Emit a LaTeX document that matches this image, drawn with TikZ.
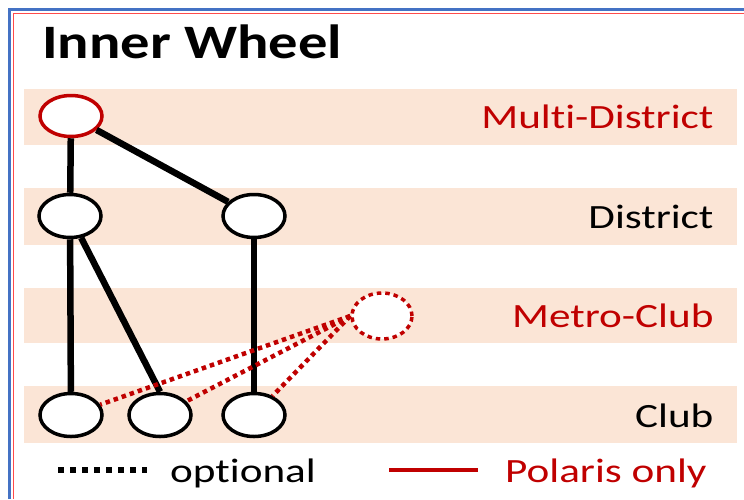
\documentclass[tikz,border=0pt]{standalone}
\usepackage{fontspec}
\setmainfont{Carlito}[Ligatures=CommonOff]
\usepackage{graphicx}
\usepackage{xcolor}
\usetikzlibrary{shapes.geometric}
\definecolor{darkred}{HTML}{C00000}
\definecolor{band}{HTML}{FBE5D6}
\definecolor{frameblue}{HTML}{4472C4}
\definecolor{framered}{HTML}{FF4B4B}
\newcommand{\wide}[1]{\scalebox{1.27}[1]{#1}}

\begin{document}
\begin{tikzpicture}[x=1pt,y=-1pt]
\tikzstyle{every node}=[font=\fontsize{34}{40}\selectfont]
\tikzstyle{unit}=[ellipse, draw, line width=3.5pt, fill=white, minimum width=62pt, minimum height=43pt, inner sep=0pt]
\tikzstyle{link}=[line width=6.5pt]
\tikzstyle{opt}=[draw=darkred, line width=4.5pt, dash pattern=on 4.5pt off 4pt]
\tikzstyle{level}=[anchor=base east]
\useasboundingbox (0,0) rectangle (744,499);
\fill [white] (0,0) rectangle (744,499);
% frame
\draw [frameblue, line width=3pt] (9.5,499) -- (9.5,9.5) -- (744,9.5);
\draw [framered, line width=1.5pt] (13.5,499) -- (13.5,13.5) -- (744,13.5);
% bands
\fill [band] (24,89) rectangle (737,145);
\fill [band] (24,188) rectangle (737,245);
\fill [band] (24,288) rectangle (737,343);
\fill [band] (24,386) rectangle (737,443);
% title
\node [anchor=base west, inner sep=0pt, font=\fontsize{48}{56}\selectfont\bfseries] (title) at (42,58) {\scalebox{1.22}[1]{Inner Wheel}};
% levels
\node [level, text=darkred] (lmd) at (717,128) {\wide{Multi-District}};
\node [level] (ld) at (717,228) {\wide{District}};
\node [level, text=darkred] (lmc) at (717,327) {\wide{Metro-Club}};
\node [level] (lc) at (717,427) {\wide{Club}};
% units
\node [unit, draw=darkred, minimum height=41pt] (md) at (71,116) {};
\node [unit] (d1) at (70,216) {};
\node [unit] (d2) at (254,216) {};
\node [unit, opt, line width=3.5pt, minimum width=60pt, minimum height=46pt] (mc) at (382,316) {};
\node [unit] (c1) at (71,415) {};
\node [unit] (c2) at (160,415) {};
\node [unit] (c3) at (254,415) {};
% links
\draw [link] (md) -- (d1);
\draw [link] (md) -- (d2);
\draw [link] (d1) -- (c1);
\draw [link] (d1) -- (c2.north);
\draw [link] (d2) -- (c3);
\draw [opt] (mc.west) -- (c1);
\draw [opt] (mc.west) -- (c2);
\draw [opt] (mc.west) -- (c3);
% legend
\coordinate (o1) at (58,470);
\coordinate (o2) at (147,470);
\coordinate (p1) at (389,470);
\coordinate (p2) at (478,470);
\draw [line width=6pt, dash pattern=on 6pt off 6pt] (o1) -- (o2);
\draw [darkred, line width=4.5pt] (p1) -- (p2);
\node [anchor=base west, inner sep=0pt] (optional) at (170,482) {\wide{optional}};
\node [anchor=base west, inner sep=0pt, text=darkred] (polaris) at (505,482) {\wide{Polaris only}};
\end{tikzpicture}
\end{document}
